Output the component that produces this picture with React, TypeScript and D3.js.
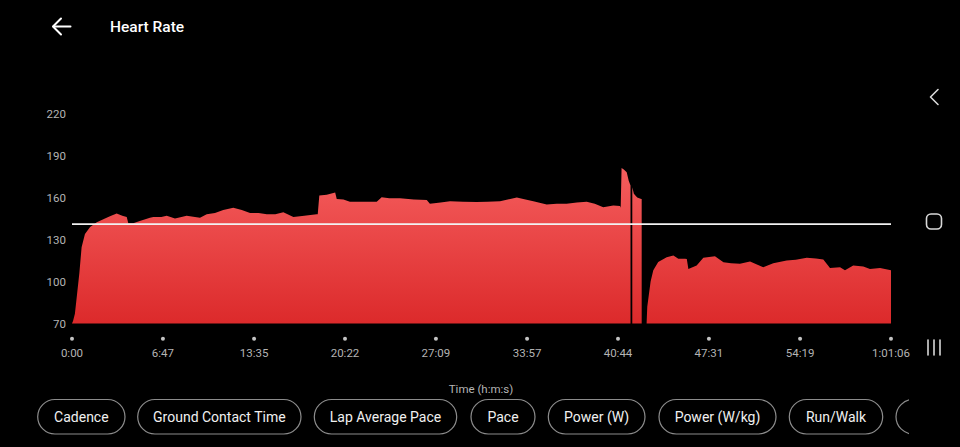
import React from "react";
import * as d3 from "d3";

// ---- Data (time in seconds, heart rate in bpm; null = gap) ----
const hrTimes: number[] = [
  0, 5, 13, 22, 33, 43, 58, 81, 111, 155, 175, 192, 200, 225, 245, 252, 274, 300, 349, 364, 400, 424, 461, 490, 513, 573, 603, 640, 677, 722, 760, 797, 835, 872, 910, 946, 991, 1040, 1095, 1100,
  1107, 1140, 1170, 1178, 1185, 1215, 1244, 1300, 1364, 1386, 1420, 1468, 1530, 1588, 1602, 1650, 1692, 1750, 1811, 1860, 1916, 1991, 2030, 2065, 2125, 2170, 2214, 2260, 2304, 2340, 2378, 2423, 2453, 2456,
  2460, 2470, 2483, 2492, 2500,
  2502,
  2508, 2515, 2530, 2548, 2550,
  2552,
  2572, 2575, 2590, 2602, 2624, 2662, 2692, 2714, 2744, 2752, 2759, 2796, 2826, 2878, 2916, 2950, 2990, 3035, 3094, 3139, 3199, 3240, 3289, 3330, 3363, 3393, 3438, 3460, 3497, 3542, 3572, 3617, 3666,
];
const hrValues: (number | null)[] = [
  70, 72, 77, 90, 106, 124.5, 134, 139, 142.4, 145.5, 147, 148, 148.5, 147, 146, 141.6, 141.6, 143, 145.5, 146, 146, 147, 145, 146, 147, 145.5, 148, 149, 151, 152.6, 151, 149, 149, 148, 148, 149.5, 146, 147, 148, 148,
  161.4, 162, 163.3, 163.5, 159, 158.5, 157, 157, 157, 160.2, 159.5, 159.5, 158.5, 158.3, 155.5, 156.5, 157.4, 157, 156.7, 157, 157.4, 160, 158.5, 157.4, 155, 155.5, 155.5, 156.5, 157, 155.5, 153, 154.3, 154, 152.6,
  181, 180, 178, 172, 168.6,
  null,
  167.4, 162.6, 160, 159, 159,
  null,
  70, 82, 100, 108, 114, 117.4, 118.6, 116.2, 116.2, 116, 109, 111.4, 117, 118, 113.8, 113, 112.6, 114.3, 110.2, 113, 115, 115.5, 117, 116.5, 115.7, 109.7, 110.2, 108, 111.4, 110.7, 109, 109.7, 108,
];
const averageHr = 141;

const yTicks: number[] = [70, 100, 130, 160, 190, 220];
const xTickSeconds: number[] = [0, 407, 815, 1222, 1629, 2037, 2444, 2851, 3259, 3666];
const xTickLabels: string[] = ["0:00", "6:47", "13:35", "20:22", "27:09", "33:57", "40:44", "47:31", "54:19", "1:01:06"];
const chipLabels: string[] = ["Cadence", "Ground Contact Time", "Lap Average Pace", "Pace", "Power (W)", "Power (W/kg)", "Run/Walk", ""];

const W = 960;
const H = 447;
const FONT = "Roboto, 'Noto Sans', sans-serif";

export default function App() {
  const x = d3.scaleLinear().domain([0, 3666]).range([72, 891]);
  const y = d3.scaleLinear().domain([70, 220]).range([323.5, 113.5]);

  const data = hrTimes.map((t, i) => ({ t, v: hrValues[i] }));
  const area = d3
    .area<{ t: number; v: number | null }>()
    .defined((d) => d.v !== null)
    .x((d) => x(d.t))
    .y0(y(70))
    .y1((d) => y(d.v as number))
    .curve(d3.curveLinear);

  const chipX: number[] = [37.7, 137.7, 314.3, 471, 548.3, 659, 789.3, 896];
  const chipW: number[] = [87.3, 163.3, 142.4, 64, 96.7, 117, 93.4, 120];

  return (
    <svg width={W} height={H} style={{ position: "absolute", left: 0, top: 0, background: "#000", display: "block" }}>
      <defs>
        <linearGradient id="hrFill" gradientUnits="userSpaceOnUse" x1="0" y1={y(182)} x2="0" y2={y(70)}>
          <stop offset="0%" stopColor="#f55e5e" />
          <stop offset="100%" stopColor="#dc2a2b" />
        </linearGradient>
        <clipPath id="chipClip">
          <rect x={0} y={380} width={909} height={67} />
        </clipPath>
      </defs>
      <rect x={0} y={0} width={W} height={H} fill="#000" />

      {/* header */}
      <g stroke="#fff" strokeWidth={2} fill="none" strokeLinecap="round" strokeLinejoin="round">
        <line x1={53.5} y1={26.5} x2={70.5} y2={26.5} />
        <polyline points="61,18.5 53,26.5 61,34.5" />
      </g>
      <text x={110} y={32} fill="#fff" fontFamily={FONT} fontSize={15.5} fontWeight={500}>
        Heart Rate
      </text>

      {/* y-axis labels */}
      {yTicks.map((t) => (
        <text key={t} x={66} y={y(t)} dy="0.35em" textAnchor="end" fill="#b4b4b4" fontFamily={FONT} fontSize={11.5}>
          {t}
        </text>
      ))}

      {/* area */}
      <path d={area(data as any) || ""} fill="url(#hrFill)" />

      {/* average line */}
      <line x1={x(0)} x2={x(3666)} y1={y(averageHr)} y2={y(averageHr)} stroke="#f2f2f2" strokeWidth={1.6} />

      {/* x-axis ticks */}
      {xTickSeconds.map((s, i) => (
        <g key={s}>
          <circle cx={x(s)} cy={338.7} r={2} fill="#c4c4c4" />
          <text x={x(s)} y={352.5} dy="0.35em" textAnchor="middle" fill="#b4b4b4" fontFamily={FONT} fontSize={11.5}>
            {xTickLabels[i]}
          </text>
        </g>
      ))}
      <text x={481} y={389} dy="0.35em" textAnchor="middle" fill="#b4b4b4" fontFamily={FONT} fontSize={11.5}>
        Time (h:m:s)
      </text>

      {/* chips */}
      <g clipPath="url(#chipClip)">
        {chipLabels.map((c, i) => (
          <g key={i}>
            <rect x={chipX[i]} y={399.5} width={chipW[i]} height={34.5} rx={17.25} fill="none" stroke="#8c8c8c" strokeWidth={1.2} />
            <text x={chipX[i] + chipW[i] / 2} y={417} dy="0.35em" textAnchor="middle" fill="#f0f0f0" fontFamily={FONT} fontSize={14}>
              {c}
            </text>
          </g>
        ))}
      </g>

      {/* right nav */}
      <g stroke="#d8d8d8" strokeWidth={1.6} fill="none" strokeLinecap="round" strokeLinejoin="round">
        <polyline points="938,89.5 930.5,97 938,104.5" />
        <rect x={926.5} y={214} width={15} height={15} rx={4.5} />
        <line x1={928} y1={340} x2={928} y2={355} />
        <line x1={934} y1={340} x2={934} y2={355} />
        <line x1={940} y1={340} x2={940} y2={355} />
      </g>
    </svg>
  );
}
